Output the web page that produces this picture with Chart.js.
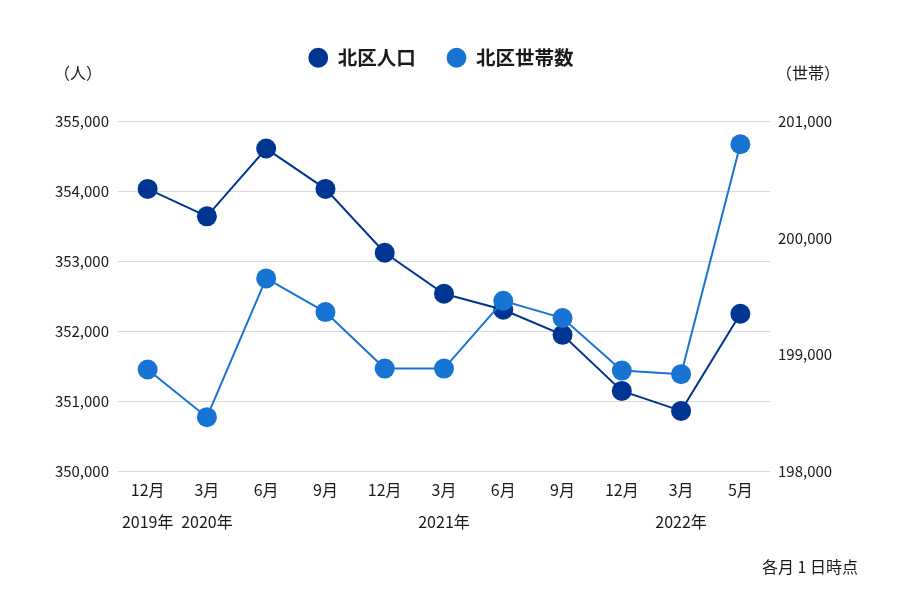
<!DOCTYPE html>
<html lang="ja">
<head>
<meta charset="utf-8">
<title>北区人口と世帯数</title>
<script src="https://cdn.jsdelivr.net/npm/chart.js@4.4.0/dist/chart.umd.min.js"></script>
<style>
  html, body { margin: 0; padding: 0; background: #ffffff; }
  #wrap { width: 900px; height: 600px; }
</style>
</head>
<body>
<div id="wrap"><canvas id="chart"></canvas></div>
<script>
// 各月1日時点
const months = ['12月', '3月', '6月', '9月', '12月', '3月', '6月', '9月', '12月', '3月', '5月'];
const years = ['2019年', '2020年', '', '', '', '2021年', '', '', '', '2022年', ''];
const population = [354036, 353643, 354613, 354036, 353123, 352536, 352307, 351948, 351146, 350860, 352249];
const households = [198871, 198462, 199653, 199364, 198879, 198879, 199461, 199313, 198862, 198831, 200805];
const populationRange = [350000, 355000];
const householdRange = [198000, 201000];

const FONT = '"Noto Sans CJK JP", "Noto Sans", sans-serif';
const TEXT = '#1a1a1a';
const DARK = '#003591';
const LIGHT = '#1874d2';

// 単位と注記
const notesPlugin = {
    id: 'notes',
    afterDraw(chart) {
        const ctx = chart.ctx;
        ctx.save();
        ctx.fillStyle = TEXT;
        ctx.font = '16px ' + FONT;
        ctx.textBaseline = 'middle';
        ctx.textAlign = 'center';
        ctx.fillText('（人）', 78, 73);
        ctx.fillText('（世帯）', 808, 73);
        ctx.textAlign = 'right';
        ctx.fillText('各月 1 日時点', 858, 567);
        ctx.restore();
    }
};

new Chart(document.getElementById('chart'), {
    type: 'line',
    data: {
        labels: months.map((m, i) => [m, years[i]]),
        datasets: [
            {
                label: '北区人口',
                data: population,
                yAxisID: 'y',
                order: 1,
                borderColor: DARK,
                backgroundColor: DARK,
                borderWidth: 2,
                pointRadius: 10,
                pointHoverRadius: 10,
                pointBorderWidth: 0,
                tension: 0
            },
            {
                label: '北区世帯数',
                data: households,
                yAxisID: 'y1',
                order: 0,
                borderColor: LIGHT,
                backgroundColor: LIGHT,
                borderWidth: 2,
                pointRadius: 10,
                pointHoverRadius: 10,
                pointBorderWidth: 0,
                tension: 0
            }
        ]
    },
    options: {
        responsive: true,
        maintainAspectRatio: false,
        animation: false,
        layout: {
            padding: { top: 17, right: 18, bottom: 0, left: 0 }
        },
        plugins: {
            legend: {
                position: 'top',
                labels: {
                    usePointStyle: true,
                    pointStyle: 'circle',
                    boxHeight: 14,
                    padding: 31,
                    color: TEXT,
                    font: { family: FONT, size: 19.5, weight: 'bold' },
                    sort: (a, b) => a.datasetIndex - b.datasetIndex
                }
            },
            // legend and plot spacer
            title: {
                display: true,
                text: '',
                weight: 500,
                font: { size: 10, lineHeight: 1 },
                padding: { top: 0, bottom: 34 }
            },
            tooltip: { enabled: false }
        },
        scales: {
            x: {
                offset: true,
                grid: { display: false, drawTicks: false },
                border: { display: false },
                ticks: {
                    color: TEXT,
                    padding: 3,
                    maxRotation: 0,
                    autoSkip: false,
                    font: { family: FONT, size: 16, lineHeight: 2 }
                },
                afterFit(scale) { scale.height = 129; }
            },
            y: {
                position: 'left',
                min: populationRange[0],
                max: populationRange[1],
                grid: { color: '#d9d9d9', drawTicks: false },
                border: { display: false },
                ticks: {
                    stepSize: 1000,
                    padding: 9,
                    color: TEXT,
                    font: { family: FONT, size: 15 },
                    callback: v => v.toLocaleString('en-US')
                },
                afterFit(scale) { scale.width = 118; }
            },
            y1: {
                position: 'right',
                min: householdRange[0],
                max: householdRange[1],
                grid: { display: false, drawTicks: false },
                border: { display: false },
                ticks: {
                    stepSize: 1000,
                    padding: 8,
                    color: TEXT,
                    font: { family: FONT, size: 15 },
                    callback: v => v.toLocaleString('en-US')
                },
                afterFit(scale) { scale.width = 112; }
            }
        }
    },
    plugins: [notesPlugin]
});
</script>
</body>
</html>
